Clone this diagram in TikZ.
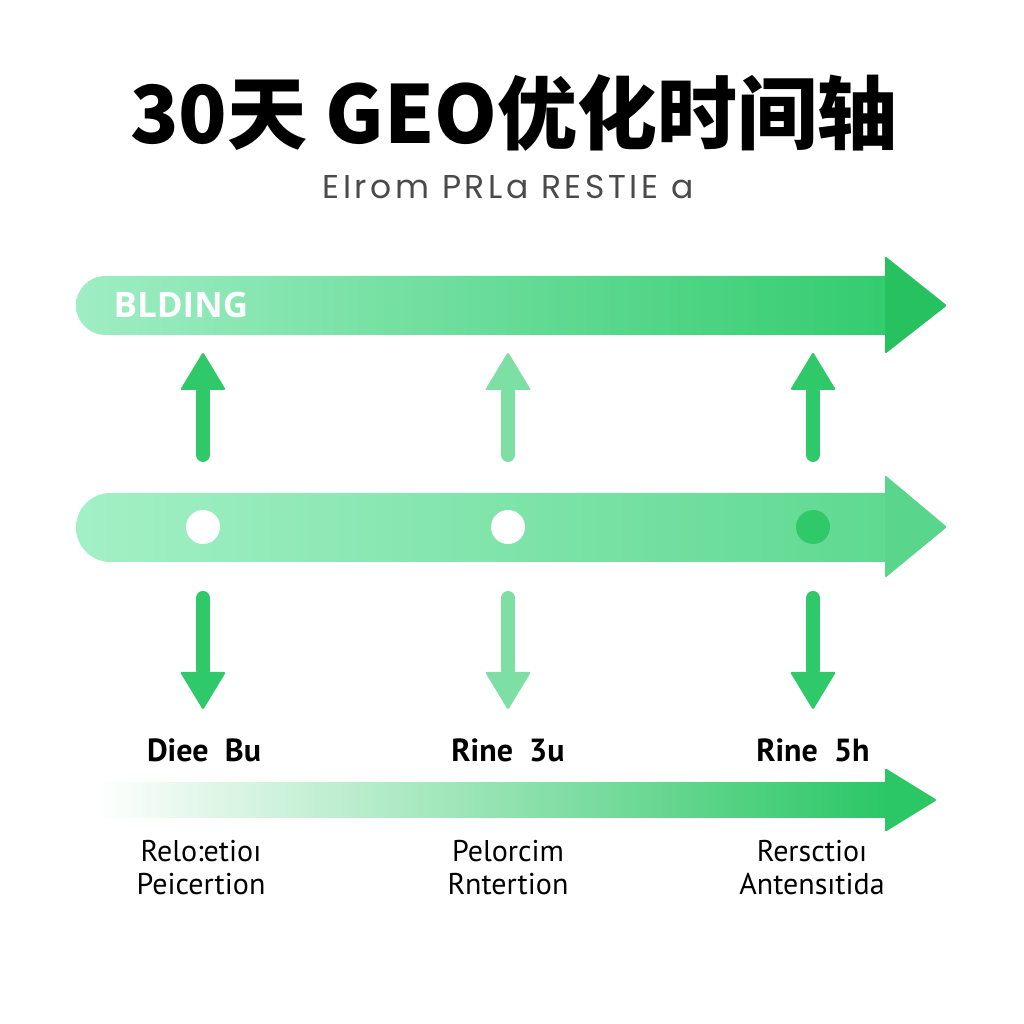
\documentclass[tikz,border=0pt]{standalone}
\usepackage{fontspec}
\newfontfamily\cjk{Noto Sans CJK SC}
\newfontfamily\lblfont{PT Sans}
\newfontfamily\subfont[LetterSpace=11]{Poppins}
\newfontfamily\barfont{Open Sans}
\definecolor{gA}{HTML}{2FC96A}
\definecolor{gB}{HTML}{7DDFA4}
\definecolor{mintA}{HTML}{9FEDC4}
\definecolor{mintB}{HTML}{93EBBA}
\definecolor{topR}{HTML}{34CC6F}
\definecolor{topH}{HTML}{27C160}
\definecolor{midL}{HTML}{A3F0C6}
\definecolor{midM}{HTML}{86E8B2}
\definecolor{midR}{HTML}{5FD991}
\definecolor{midH}{HTML}{5AD68C}
\definecolor{botM}{HTML}{B8F3D2}
\definecolor{botR}{HTML}{2BC765}
\definecolor{subgray}{HTML}{4A4A4A}
\tikzset{
  stem/.style={line width=14pt, line cap=round},
  headtri/.style={rounded corners=2pt},
  steplabel/.style={font=\lblfont\bfseries\fontsize{32}{34}\selectfont, text=black, anchor=center},
  desclabel/.style={font=\lblfont\fontsize{30}{33}\selectfont, text=black, align=center, anchor=center},
}
\begin{document}
\begin{tikzpicture}[x=1pt,y=1pt]
\useasboundingbox (0,0) rectangle (1024,1024);
\fill[white] (0,0) rectangle (1024,1024);
% title
\node[font=\cjk\bfseries\fontsize{80}{84}\selectfont] (title) at (514,911) {30天 GEO优化时间轴};
\node[font=\subfont\fontsize{33}{36}\selectfont, text=subgray] (subtitle) at (508,837) {EIrom PRLa RESTIE a};
% top bar
\shade[left color=mintA, middle color=mintB, right color=topR]
  (885,748) -- (105.5,748) arc[start angle=90,end angle=270,radius=29.5] -- (885,689) -- cycle;
\fill[topH, headtri] (885,768) -- (947,718.5) -- (885,670) -- cycle;
\node[font=\barfont\bfseries\fontsize{35}{37}\selectfont, text=white, anchor=west] (bld) at (110,719) {BLDING};
% middle bar
\shade[left color=midL, middle color=midM, right color=midR]
  (885,531) -- (110.5,531) arc[start angle=90,end angle=270,radius=34.5] -- (885,462) -- cycle;
\fill[midH, headtri] (885,549) -- (947,497) -- (885,446) -- cycle;
\node[circle, fill=white, minimum size=34pt, inner sep=0] (d1) at (203,497) {};
\node[circle, fill=white, minimum size=34pt, inner sep=0] (d2) at (508,497) {};
\node[circle, fill=gA, minimum size=34pt, inner sep=0] (d3) at (813,497) {};
% up arrows
\foreach \x/\c in {203/gA, 508/gB, 813/gA}{
  \coordinate (us\x) at (\x,569);
  \coordinate (ub\x) at (\x,632);
  \draw[stem, \c] (us\x) -- (ub\x);
  \fill[\c, headtri] (\x-23,634) -- (\x,672) -- (\x+23,634) -- cycle;
}
% down arrows
\foreach \x/\c in {203/gA, 508/gB, 813/gA}{
  \coordinate (ds\x) at (\x,426);
  \coordinate (db\x) at (\x,354);
  \draw[stem, \c] (ds\x) -- (db\x);
  \fill[\c, headtri] (\x-23,352) -- (\x,314) -- (\x+23,352) -- cycle;
}
% step labels
\node[steplabel] (l1) at (204,274) {Diee\ \ Bu};
\node[steplabel] (l2) at (508,274) {Rine\ \ 3u};
\node[steplabel] (l3) at (813,274) {Rine\ \ 5h};
% bottom bar
\shade[left color=white, middle color=botM, right color=botR]
  (95,241) rectangle (885,206);
\fill[botR, headtri] (885,256) -- (937,224) -- (885,192) -- cycle;
% descriptions
\node[desclabel] (t1) at (201,156) {Relo:etioı\\Peicertion};
\node[desclabel] (t2) at (508,156) {Pelorcim\\Rntertion};
\node[desclabel] (t3) at (812,156) {Rersctioı\\Antensıtida};
\end{tikzpicture}
\end{document}
